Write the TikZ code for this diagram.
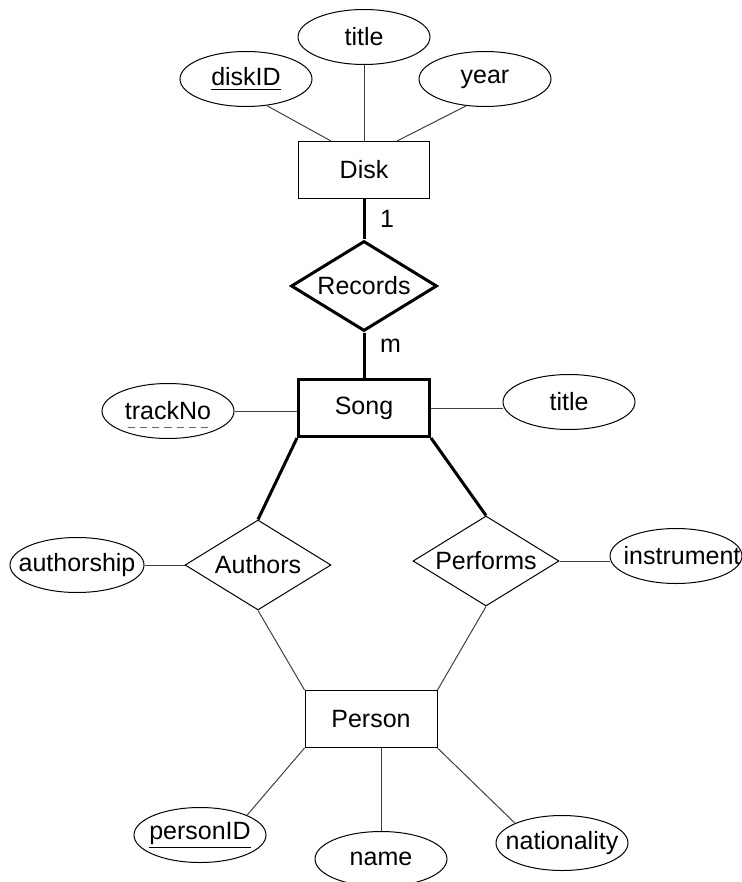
\documentclass[tikz,border=0pt]{standalone}
\usepackage{fontspec}
\setmainfont{Liberation Sans}
\usetikzlibrary{shapes.geometric,calc}
\newcommand{\attrname}[1]{\makebox[0pt]{#1}}
\newcommand{\dashunder}[1]{\setbox0\hbox{#1}\copy0\llap{\raisebox{-4pt}[0pt][0pt]{\hbox to\wd0{\color{black!60}%
\xleaders\hbox to 6pt{\hss\vrule height0.5pt depth0pt width3.6pt\hss}\hfill}}}}
\tikzstyle{er style entity}=[rectangle, draw, line width=0.5pt,
minimum width=65.5pt, minimum height=28.5pt, inner sep=0pt]
\tikzstyle{er style relation}=[diamond, draw, line width=0.5pt, aspect=1.6,
minimum width=73pt, minimum height=45pt, inner sep=0pt]
\tikzstyle{er style attribute}=[ellipse, draw, line width=0.5pt,
minimum width=66pt, minimum height=27.5pt, inner sep=0pt]
\tikzstyle{er style link}=[line width=0.5pt, black!75]
\tikzstyle{er style total}=[line width=1.5pt]
\tikzstyle{er style card}=[right, xshift=4pt]

\begin{document}
\begin{tikzpicture}[x=0.5pt, y=-0.5pt, font=\fontsize{12.5}{15}\selectfont]
			\useasboundingbox (0,0) rectangle (741,882);

			% entities
			\node[er style entity] (Disk) at (364,170) {Disk};
			\node[er style entity, line width=1.5pt] (Song) at (364,408) {Song};
			\node[er style entity, minimum width=66pt] (Person) at (371,719) {Person};

			% relationships
			\node[er style relation, line width=1.5pt] (Records) at (364,286) {Records};
			\node[er style relation] (Authors) at (258,565) {Authors};
			\node[er style relation] (Performs) at (486,561) {Performs};

			% attributes
			\node[er style attribute] (diskID) at (246,79) {\attrname{\underline{diskID}}};
			\node[er style attribute] (diskTitle) at (364,37) {\attrname{title}};
			\node[er style attribute] (year) at (485,79) {\attrname{year}};
			\node[er style attribute] (trackNo) at (168,411) {\attrname{\dashunder{trackNo}}};
			\node[er style attribute] (songTitle) at (569,402) {\attrname{title}};
			\node[er style attribute, minimum width=67pt] (authorship) at (77,565) {\attrname{authorship}};
			\node[er style attribute] (instrument) at (676,556) {\attrname{\hspace{6pt}instrument}};
			\node[er style attribute] (personID) at (200,835) {\attrname{\underline{personID}}};
			\node[er style attribute] (name) at (381,859) {\attrname{name}};
			\node[er style attribute] (nationality) at (562,843) {\attrname{nationality}};

			\draw[er style link] (diskID.-52) -- ($(Disk.north west)!0.5!(Disk.north)$);
			\draw[er style link] (diskTitle) -- (Disk);
			\draw[er style link] (year.-125) -- ($(Disk.north)!0.5!(Disk.north east)$);
			\draw[er style total] (Disk) -- node[er style card] {1} (Records);
			\draw[er style total] (Records) -- node[er style card, pos=0.3] {m} (Song);
			\draw[er style link] (trackNo.east) -- (trackNo.east -| Song.west);
			\draw[er style link] (Song.east) -- (Song.east -| songTitle.west);
			\draw[er style total] (Song.south west) -- (Authors.north);
			\draw[er style total] (Song.south east) -- (Performs.north);
			\draw[er style link] (authorship) -- (Authors);
			\draw[er style link] (Performs.east) -- (Performs.east -| instrument.west);
			\draw[er style link] (Authors.south) -- (Person.north west);
			\draw[er style link] (Performs.south) -- (Person.north east);
			\draw[er style link] (Person.south west) -- (personID.north east);
			\draw[er style link] (Person.south -| name) -- (name);
			\draw[er style link] (Person.south east) -- (nationality.north west);
		\end{tikzpicture}
\end{document}
